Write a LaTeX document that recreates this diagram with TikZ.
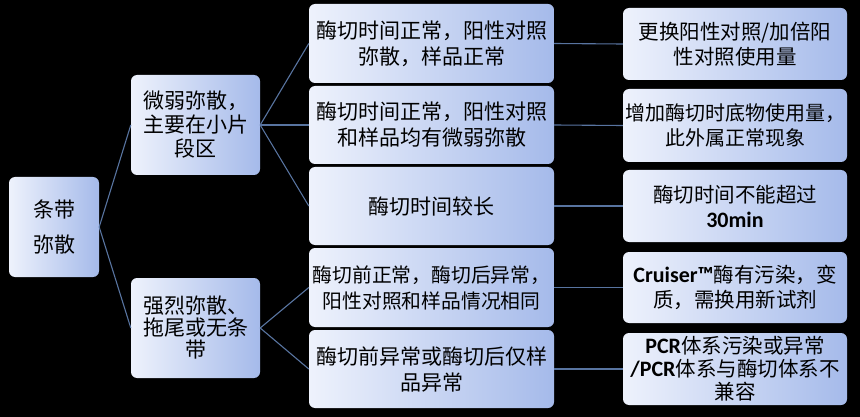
\documentclass[tikz,border=0pt]{standalone}
\usepackage{fontspec}
\setmainfont{Noto Sans CJK SC}
\newfontfamily\lat{Carlito}
\definecolor{boxL}{RGB}{238,242,252}
\definecolor{boxR}{RGB}{165,186,234}
\definecolor{connC}{RGB}{88,116,160}
\begin{document}
\begin{tikzpicture}[x=1pt,y=-1pt,
  box/.style={rounded corners=6pt, left color=boxL, right color=boxR, draw=none,
    align=center, inner sep=0pt, font=\fontsize{21}{26}\selectfont},
  conn/.style={draw=connC, line width=1.1pt}]
\useasboundingbox[fill=black] (0,0) rectangle (860,417);
% root
\node[box, minimum width=90pt, minimum height=100pt, font=\fontsize{21}{35}\selectfont] (root) at (54,227) {条带\\弥散};
% level 1
\node[box, minimum width=129pt, minimum height=100pt, font=\fontsize{21}{24}\selectfont] (la) at (195.5,125) {微弱弥散，\\主要在小片\\段区};
\node[box, minimum width=129pt, minimum height=100pt, font=\fontsize{21}{22}\selectfont] (lb) at (195.5,328) {强烈弥散、\\拖尾或无条\\带};
% level 2
\node[box, minimum width=245pt, minimum height=79pt] (b1) at (431.5,43.5) {酶切时间正常，阳性对照\\弥散，样品正常};
\node[box, minimum width=245pt, minimum height=78pt] (b2) at (431.5,125) {酶切时间正常，阳性对照\\和样品均有微弱弥散};
\node[box, minimum width=245pt, minimum height=78pt] (b3) at (431.5,206) {酶切时间较长};
\node[box, minimum width=245pt, minimum height=79pt, font=\fontsize{19.8}{26}\selectfont] (b4) at (431.5,287.5) {酶切前正常，酶切后异常，\\阳性对照和样品情况相同};
\node[box, minimum width=245pt, minimum height=78pt] (b5) at (431.5,369) {酶切前异常或酶切后仅样\\品异常};
% level 3
\node[box, minimum width=224pt, minimum height=72pt, font=\fontsize{20.5}{25}\selectfont] (c1) at (735,44) {更换阳性对照/加倍阳\\性对照使用量};
\node[box, minimum width=224pt, minimum height=73pt, font=\fontsize{20}{25}\selectfont] (c2) at (735,125.5) {增加酶切时底物使用量，\\此外属正常现象};
\node[box, minimum width=224pt, minimum height=72pt, font=\fontsize{20.5}{25}\selectfont] (c3) at (735,206) {酶切时间不能超过\\{\lat\bfseries\fontsize{22}{25}\selectfont 30min}};
\node[box, minimum width=224pt, minimum height=71pt, font=\fontsize{20.5}{25}\selectfont] (c4) at (735,287.5) {{\lat\bfseries\fontsize{22}{25}\selectfont Cruiser™}酶有污染，变\\质，需换用新试剂};
\node[box, minimum width=224pt, minimum height=72pt, font=\fontsize{20.5}{23}\selectfont] (c5) at (735,369) {{\lat\bfseries\fontsize{22}{23}\selectfont PCR}体系污染或异常\\{\lat\bfseries\fontsize{22}{23}\selectfont /PCR}体系与酶切体系不\\兼容};
% connectors
\draw[conn] (root.east) -- (la.west);
\draw[conn] (root.east) -- (lb.west);
\draw[conn] (la.east) -- (b1.west);
\draw[conn] (la.east) -- (b2.west);
\draw[conn] (la.east) -- (b3.west);
\draw[conn] (lb.east) -- (b4.west);
\draw[conn] (lb.east) -- (b5.west);
\draw[conn] (b1.east) -- (c1.west);
\draw[conn] (b2.east) -- (c2.west);
\draw[conn] (b3.east) -- (c3.west);
\draw[conn] (b4.east) -- (c4.west);
\draw[conn] (b5.east) -- (c5.west);
\end{tikzpicture}
\end{document}
